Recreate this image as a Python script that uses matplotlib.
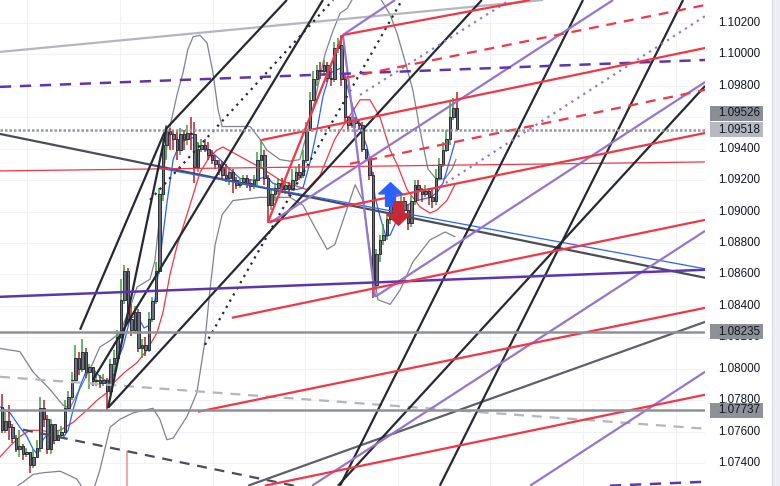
import matplotlib
matplotlib.use('Agg')
import matplotlib.pyplot as plt
import matplotlib.transforms as mtransforms
from matplotlib.patches import Rectangle
from matplotlib.path import Path

# ---------------------------------------------------------------
# price data, one candle per bar (open of a bar = previous close)
# ---------------------------------------------------------------
first_open = 1.0776
close = [1.0761, 1.0767, 1.0763, 1.0756, 1.0749, 1.0751, 1.0746, 1.0747, 1.0739, 1.0744,
         1.0750, 1.0775, 1.0768, 1.0749, 1.0765, 1.0755, 1.0758, 1.0760, 1.0775, 1.0782,
         1.0793, 1.0807, 1.0800, 1.0811, 1.0798, 1.0801, 1.0792, 1.0793, 1.0791, 1.0793,
         1.0786, 1.0803, 1.0807, 1.0820, 1.0844, 1.0862, 1.0832, 1.0825, 1.0836, 1.0813,
         1.0815, 1.0812, 1.0832, 1.0843, 1.0862, 1.0911, 1.0942, 1.0951, 1.0949, 1.0946,
         1.0939, 1.0949, 1.0946, 1.0950, 1.0949, 1.0928, 1.0940, 1.0942, 1.0940, 1.0936,
         1.0933, 1.0930, 1.0928, 1.0923, 1.0921, 1.0925, 1.0920, 1.0917, 1.0919, 1.0921,
         1.0918, 1.0916, 1.0920, 1.0933, 1.0936, 1.0921, 1.0904, 1.0911, 1.0915, 1.0918,
         1.0914, 1.0917, 1.0914, 1.0920, 1.0925, 1.0923, 1.0933, 1.0952, 1.0971, 1.0984,
         1.0990, 1.0989, 1.0993, 1.0985, 1.0984, 1.1004, 1.1006, 1.0984, 1.0960, 1.0955,
         1.0958, 1.0956, 1.0955, 1.0940, 1.0934, 1.0923, 1.0853, 1.0873, 1.0882, 1.0885,
         1.0895, 1.0904, 1.0902, 1.0898, 1.0907, 1.0901, 1.0893, 1.0907, 1.0917, 1.0914,
         1.0911, 1.0913, 1.0909, 1.0907, 1.0921, 1.0930, 1.0939, 1.0946, 1.0960, 1.0966,
         1.09526]
high = [1.0784, 1.0773, 1.0777, 1.0765, 1.0758, 1.0761, 1.0752, 1.0750, 1.0747, 1.0749,
        1.0755, 1.0782, 1.0780, 1.0771, 1.0768, 1.0760, 1.0761, 1.0764, 1.0780, 1.0786,
        1.0798, 1.0815, 1.0811, 1.0819, 1.0813, 1.0803, 1.0801, 1.0798, 1.0796, 1.0797,
        1.0794, 1.0806, 1.0812, 1.0825, 1.0857, 1.0866, 1.0864, 1.0841, 1.0840, 1.0838,
        1.0819, 1.0820, 1.0836, 1.0846, 1.0868, 1.0915, 1.0947, 1.0955, 1.0953, 1.0952,
        1.0952, 1.0953, 1.0952, 1.0955, 1.0960, 1.0957, 1.0944, 1.0946, 1.0946, 1.0944,
        1.0939, 1.0936, 1.0933, 1.0932, 1.0930, 1.0928, 1.0927, 1.0922, 1.0921, 1.0923,
        1.0923, 1.0920, 1.0923, 1.0938, 1.0946, 1.0939, 1.0923, 1.0914, 1.0918, 1.0921,
        1.0921, 1.0920, 1.0919, 1.0927, 1.0928, 1.0930, 1.0939, 1.0957, 1.0976, 1.0989,
        1.0993, 1.0995, 1.0996, 1.0995, 1.0991, 1.1008, 1.1010, 1.1012, 1.0987, 1.0961,
        1.0961, 1.0960, 1.0958, 1.0957, 1.0939, 1.0934, 1.0925, 1.0876, 1.0885, 1.0892,
        1.0898, 1.0909, 1.0909, 1.0904, 1.0911, 1.0909, 1.0905, 1.0910, 1.0920, 1.0920,
        1.0915, 1.0917, 1.0915, 1.0914, 1.0927, 1.0934, 1.0944, 1.0952, 1.0971, 1.0972,
        1.0976]
low = [1.0759, 1.0759, 1.0755, 1.0753, 1.0747, 1.0744, 1.0742, 1.0744, 1.0734, 1.0737,
       1.0744, 1.0747, 1.0763, 1.0746, 1.0746, 1.0752, 1.0754, 1.0756, 1.0760, 1.0774,
       1.0780, 1.0792, 1.0796, 1.0798, 1.0794, 1.0787, 1.0789, 1.0789, 1.0788, 1.0789,
       1.0774, 1.0784, 1.0798, 1.0805, 1.0819, 1.0841, 1.0830, 1.0821, 1.0822, 1.0811,
       1.0807, 1.0808, 1.0811, 1.0830, 1.0841, 1.0860, 1.0907, 1.0933, 1.0939, 1.0939,
       1.0933, 1.0936, 1.0939, 1.0942, 1.0939, 1.0918, 1.0925, 1.0938, 1.0938, 1.0933,
       1.0930, 1.0927, 1.0923, 1.0920, 1.0919, 1.0917, 1.0912, 1.0914, 1.0915, 1.0917,
       1.0915, 1.0913, 1.0914, 1.0917, 1.0927, 1.0917, 1.0893, 1.0901, 1.0907, 1.0911,
       1.0912, 1.0911, 1.0910, 1.0913, 1.0917, 1.0920, 1.0921, 1.0931, 1.0951, 1.0970,
       1.0980, 1.0984, 1.0987, 1.0982, 1.0980, 1.0982, 1.1001, 1.0980, 1.0957, 1.0952,
       1.0953, 1.0953, 1.0952, 1.0938, 1.0932, 1.0920, 1.0845, 1.0850, 1.0868, 1.0879,
       1.0882, 1.0892, 1.0896, 1.0892, 1.0898, 1.0896, 1.0888, 1.0890, 1.0904, 1.0907,
       1.0906, 1.0909, 1.0904, 1.0902, 1.0904, 1.0920, 1.0928, 1.0938, 1.0942, 1.0958,
       1.0951]

# indicator curves (bar, price)
fast_ma_x = [-0.6, 2.3, 5.1, 7.1, 8.9, 10.0, 10.9, 11.7, 13.7, 15.7, 17.4, 18.9, 20.3, 22.3,
             24.3, 26.0, 28.0, 30.0, 31.7, 33.1, 34.6, 36.6, 38.6, 40.6, 42.3, 43.7, 45.1,
             47.1, 48.9, 50.9, 54.6, 56.6, 60.3, 62.3, 65.1, 68.0, 71.7, 75.7, 77.4, 81.4,
             84.3, 86.0, 88.0, 90.0, 91.7, 93.7, 96.6, 98.6, 100.3, 102.3, 104.3, 105.4,
             106.6, 108.0, 109.7, 110.9, 112.9, 114.6, 118.6, 122.3, 124.3, 126.0, 128.0, 129.4]
fast_ma_y = [1.0776, 1.0772, 1.0763, 1.0757, 1.0749, 1.0746, 1.0750, 1.0755, 1.0760, 1.0757,
             1.0756, 1.0761, 1.0774, 1.0789, 1.0800, 1.0800, 1.0795, 1.0792, 1.0795, 1.0806,
             1.0814, 1.0832, 1.0834, 1.0826, 1.0828, 1.0844, 1.0869, 1.0905, 1.0933, 1.0944,
             1.0947, 1.0941, 1.0937, 1.0933, 1.0927, 1.0921, 1.0920, 1.0922, 1.0918, 1.0915,
             1.0914, 1.0915, 1.0931, 1.0952, 1.0973, 1.0988, 1.0991, 1.0980, 1.0966, 1.0953,
             1.0941, 1.0930, 1.0909, 1.0897, 1.0884, 1.0885, 1.0895, 1.0903, 1.0907, 1.0909,
             1.0912, 1.0918, 1.0933, 1.0944]
slow_ma_x = [-0.6, 2.3, 5.1, 8.0, 10.9, 13.7, 16.6, 20.3, 24.3, 27.1, 30.0, 32.3, 35.1, 38.6,
             41.4, 44.3, 46.0, 48.0, 50.0, 51.7, 53.7, 56.6, 59.4, 61.4, 63.1, 68.0, 74.6,
             79.4, 84.3, 87.1, 90.9, 95.1, 99.4, 102.3, 105.1, 108.0, 110.9, 112.9, 115.7,
             119.4, 122.3, 124.3, 127.1, 129.4]
slow_ma_y = [1.0744, 1.0751, 1.0757, 1.0761, 1.0761, 1.0760, 1.0761, 1.0766, 1.0774, 1.0780,
             1.0785, 1.0792, 1.0798, 1.0804, 1.0812, 1.0823, 1.0836, 1.0860, 1.0878, 1.0890,
             1.0904, 1.0925, 1.0935, 1.0939, 1.0941, 1.0935, 1.0927, 1.0920, 1.0916, 1.0914,
             1.0923, 1.0946, 1.0961, 1.0971, 1.0971, 1.0960, 1.0939, 1.0930, 1.0914, 1.0903,
             1.0899, 1.0901, 1.0907, 1.0917]
bb_up_x = [-0.6, 5.1, 8.9, 13.7, 17.4, 19.4, 23.1, 26.0, 28.0, 30.9, 33.7, 36.6, 38.6, 42.3,
           43.7, 45.1, 46.6, 48.0, 50.0, 51.7, 53.1, 54.6, 56.6, 58.6, 60.3, 61.7, 62.9, 66.6,
           70.9, 73.7, 75.7, 79.4, 82.3, 85.1, 87.4, 89.4, 92.3, 94.6, 96.6, 98.6, 100.9,
           103.7, 107.4, 110.9, 112.9, 115.1, 117.4, 119.4, 121.7, 124.3, 126.6, 128.6, 129.7]
bb_up_y = [1.0813, 1.0811, 1.0798, 1.0787, 1.0777, 1.0775, 1.0791, 1.0804, 1.0814, 1.0818,
           1.0823, 1.0839, 1.0852, 1.0857, 1.0869, 1.0898, 1.0933, 1.0954, 1.0974, 1.0988,
           1.1003, 1.1011, 1.1012, 1.1007, 1.0988, 1.0965, 1.0954, 1.0954, 1.0954, 1.0946,
           1.0939, 1.0933, 1.0932, 1.0933, 1.0952, 1.0971, 1.1000, 1.1015, 1.1026, 1.1029,
           1.1038, 1.1047, 1.1038, 1.1025, 1.1013, 1.0996, 1.0977, 1.0952, 1.0927, 1.0920,
           1.0921, 1.0927, 1.0933]
bb_lo_x = [4.6, 6.0, 8.9, 11.7, 16.6, 18.6, 21.4, 23.4, 25.7, 28.0, 29.7, 30.9, 33.7, 37.4,
           43.1, 45.1, 47.1, 48.9, 52.9, 55.7, 58.0, 59.4, 60.9, 62.9, 66.0, 73.7, 82.3, 86.0,
           89.4, 92.9, 95.1, 98.0, 100.9, 103.1, 105.1, 107.4, 110.9, 113.7, 117.4, 122.3,
           126.6, 129.4]
bb_lo_y = [1.0726, 1.0728, 1.0733, 1.0734, 1.0735, 1.0733, 1.0730, 1.0723, 1.0720, 1.0736,
           1.0752, 1.0763, 1.0768, 1.0772, 1.0775, 1.0768, 1.0755, 1.0756, 1.0770, 1.0785,
           1.0818, 1.0850, 1.0879, 1.0898, 1.0907, 1.0909, 1.0909, 1.0904, 1.0890, 1.0876,
           1.0879, 1.0898, 1.0917, 1.0907, 1.0876, 1.0844, 1.0841, 1.0850, 1.0868, 1.0882,
           1.0887, 1.0884]

# drawn trend lines: (bar1, price1, bar2, price2)
black_lines = [(22.3, 1.08249, 47.1, 1.09538), (30.3, 1.07753, 47.1, 1.09538),
               (30.3, 1.07753, 137.1, 1.10344), (47.1, 1.09531, 81.4, 1.10344),
               (26.0, 1.07931, 91.7, 1.10344), (166.0, 1.10344, 96.6, 1.07258),
               (194.6, 1.10344, 125.1, 1.07258), (96.0, 1.07258, 200.9, 1.09798)]
black_dotted = [(42.3, 1.09074, 94.6, 1.10344), (58.0, 1.08153, 114.3, 1.10344)]
red_lines = [(97.4, 1.10122, 150.9, 1.10344), (74.3, 1.09455, 200.9, 1.10039),
             (76.0, 1.08934, 200.9, 1.09499), (65.7, 1.08325, 200.9, 1.08947),
             (56.0, 1.07728, 200.9, 1.08388), (75.1, 1.07258, 200.9, 1.07836),
             (76.0, 1.08934, 97.4, 1.10122)]
red_dashed = [(98.0, 1.09849, 200.9, 1.10312), (99.4, 1.09303, 200.9, 1.09773)]
red_thin = [(-0.6, 1.09258, 200.9, 1.09315)]
violet_lines = [(76.6, 1.08928, 174.6, 1.10344), (106.6, 1.08458, 200.9, 1.09823),
                (88.6, 1.07258, 200.9, 1.08877), (150.9, 1.07258, 200.9, 1.07982),
                (97.4, 1.10122, 106.6, 1.08458), (97.4, 1.10122, 112.3, 1.10344)]
violet_dotted = [(102.3, 1.09741, 145.1, 1.10344), (125.1, 1.09157, 200.9, 1.10242)]
indigo_solid = [(-0.6, 1.08458, 200.9, 1.08630)]
indigo_dashed = [(-0.6, 1.09792, 200.9, 1.09963), (173.7, 1.07258, 200.9, 1.07283)]
grey_dark = [(-0.6, 1.09493, 200.9, 1.08579)]
grey_mid = [(70.3, 1.07258, 200.9, 1.08299)]
grey_light = [(-0.6, 1.10014, 154.6, 1.10344)]
grey_light_dashed = [(-0.6, 1.07950, 200.9, 1.07620)]
grey_dark_dashed = [(6.0, 1.07614, 83.4, 1.07258)]
blue_thin = [(44.6, 1.09277, 200.9, 1.08636)]

# horizontal levels
level_dotted = 1.09518
levels_solid = [1.08235, 1.07737]

# signals
buy_signal = (110.9, 1.0911)
sell_signal = (113.1, 1.0899)
marker_bar = (35.7, 1.0748)

price_ticks = [1.074, 1.076, 1.078, 1.080, 1.082, 1.084, 1.086, 1.088, 1.090,
               1.092, 1.094, 1.096, 1.098, 1.100, 1.102]
grid_bars = [7.1, 33.7, 60.3, 86.6, 113.1, 139.4, 166.0, 192.6]
# price boxes: value, box colour, vertical nudge in px
price_boxes = [(1.09526, '#8b8e95', 15.5), (1.09518, '#b6b9c1', 0),
               (1.08235, '#8f9198', 0), (1.07737, '#8f9198', 0)]

W, H = 780, 486
fig = plt.figure(figsize=(W / 100, H / 100), dpi=100)
fig.patch.set_facecolor('white')
ax = fig.add_axes([0, 0, 705 / W, 1])
ax.set_xlim(-0.57, 200.86)
ax.set_ylim(1.07256, 1.10344)
ax.set_xticks([])
ax.set_yticks([])
for s in ax.spines.values():
    s.set_visible(False)

# grid
for p in price_ticks:
    ax.axhline(p, color='#f0f2f6', lw=0.8, zorder=0)
for b in grid_bars:
    ax.axvline(b, color='#f0f2f6', lw=0.8, zorder=0)

# indicators
ax.plot(bb_up_x, bb_up_y, color='#80838c', lw=0.9, zorder=1)
ax.plot(bb_lo_x, bb_lo_y, color='#80838c', lw=0.9, zorder=1)
ax.plot(slow_ma_x, slow_ma_y, color='#f23645', lw=0.9, zorder=2)
ax.plot(fast_ma_x, fast_ma_y, color='#2962ff', lw=0.9, zorder=2)

# candles
opens = [first_open] + close[:-1]
bars = list(range(len(close)))
wick_col = ['#3f9e3a' if c >= o else '#b3202c' for o, c in zip(opens, close)]
ax.vlines(bars, low, high, colors=wick_col, lw=1.1, zorder=3)
bottoms = [min(o, c) for o, c in zip(opens, close)]
heights = [max(abs(c - o), 0.00004) for o, c in zip(opens, close)]
ax.bar(bars, heights, bottom=bottoms, width=0.78, color='#6e717b',
       edgecolor='#2c2f38', lw=0.7, zorder=3.5)


def draw(segs, **kw):
    for b1, p1, b2, p2 in segs:
        ax.plot([b1, b2], [p1, p2], solid_capstyle='butt', dash_capstyle='butt', **kw)


draw(grey_light, color='#b4b6bd', lw=1.6, zorder=4)
draw(grey_light_dashed, color='#b4b6bd', lw=1.6, ls=(0, (4.5, 3.5)), zorder=4)
draw(grey_dark_dashed, color='#4a4d57', lw=1.6, ls=(0, (4.5, 3.5)), zorder=4)
draw(grey_dark, color='#4a4d57', lw=1.6, zorder=4)
draw(grey_mid, color='#5d606b', lw=1.6, zorder=4)
draw(blue_thin, color='#2962ff', lw=0.9, zorder=4)
draw(red_thin, color='#f23645', lw=0.9, zorder=4)
draw(black_lines, color='#262932', lw=1.6, zorder=4)
draw(black_dotted, color='#262932', lw=1.6, ls=(0, (1, 2.2)), zorder=4)
draw(violet_lines, color='#9575cd', lw=1.6, zorder=4)
draw(violet_dotted, color='#9575cd', lw=1.6, ls=(0, (1, 2.2)), zorder=4)
draw(indigo_solid, color='#5e35b1', lw=1.8, zorder=4)
draw(indigo_dashed, color='#5e35b1', lw=1.8, ls=(0, (4.5, 3.5)), zorder=4)
draw(red_lines, color='#f23645', lw=1.6, zorder=4)
draw(red_dashed, color='#f23645', lw=1.6, ls=(0, (4.5, 3.5)), zorder=4)

ax.axhline(level_dotted, color='#9598a1', lw=1.8, ls=(0, (1, 0.8)), zorder=5)
for lv in levels_solid:
    ax.axhline(lv, color='#8f9198', lw=1.8, zorder=5)

ax.vlines(marker_bar[0], ax.get_ylim()[0], marker_bar[1], color='#f7a4a8', lw=1.4, zorder=2)

# signal arrows
up_arrow = Path([(-1, 0.05), (0, 1), (1, 0.05), (0.42, 0.05), (0.42, -1), (-0.42, -1),
                 (-0.42, 0.05), (-1, 0.05)])
down_arrow = Path([(x, -y) for x, y in up_arrow.vertices])
ax.plot(*buy_signal, marker=up_arrow, ms=17, color='#2962ff', mec='#2962ff', zorder=6)
ax.plot(*sell_signal, marker=down_arrow, ms=17, color='#c62834', mec='#c62834', zorder=6)

# right price scale
trans = mtransforms.blended_transform_factory(fig.transFigure, ax.transData)
px = (1.10344 - 1.07256) / H
for p in price_ticks:
    fig.text(718 / W, p, f'{p:.5f}', transform=trans, fontsize=8.4,
             family='Liberation Sans', color='#131722', va='center', ha='left', zorder=3)
for val, col, nudge in price_boxes:
    yc = val + nudge * px
    fig.patches.append(Rectangle((710 / W, yc - 7.5 * px), 53 / W, 15 * px,
                                 transform=trans, facecolor=col, edgecolor='none', zorder=4))
    fig.text(718 / W, yc, f'{val:.5f}', transform=trans, fontsize=8.4,
             family='Liberation Sans', color='#131722', va='center', ha='left', zorder=5)

# right edge strip
fig.patches.append(Rectangle((772 / W, 0), 8 / W, 1, transform=fig.transFigure,
                             facecolor='#eceef4', edgecolor='none'))
fig.lines.append(plt.Line2D([772 / W, 772 / W], [0, 1], transform=fig.transFigure,
                            color='#d6d9e0', lw=0.8))

fig.savefig('out.png', dpi=100)
